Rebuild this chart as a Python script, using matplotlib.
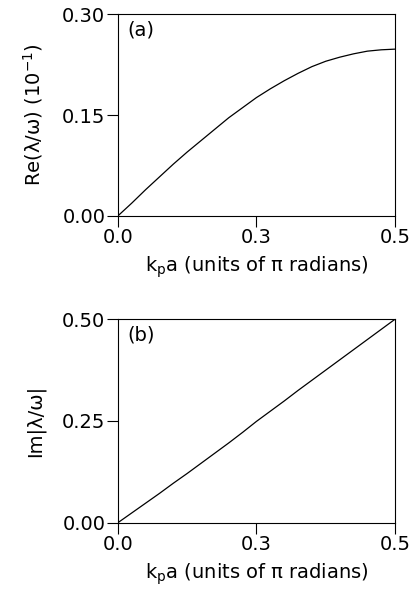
import matplotlib
matplotlib.use('Agg')
import matplotlib.pyplot as plt

plt.rcParams['font.family'] = ['DejaVu Sans']
plt.rcParams['mathtext.fontset'] = 'dejavusans'

# data
kpa = [0.0, 0.025, 0.05, 0.075, 0.10, 0.125, 0.15, 0.175, 0.20, 0.225, 0.25,
       0.275, 0.30, 0.325, 0.35, 0.375, 0.40, 0.425, 0.45, 0.475, 0.50]
re_vals = [0.0, 0.019, 0.039, 0.058, 0.077, 0.095, 0.112, 0.129, 0.146, 0.161, 0.176,
           0.189, 0.201, 0.212, 0.222, 0.230, 0.236, 0.241, 0.245, 0.247, 0.248]
im_vals = [0.0, 0.024, 0.048, 0.072, 0.097, 0.121, 0.146, 0.171, 0.196, 0.222, 0.249,
           0.274, 0.299, 0.325, 0.350, 0.375, 0.400, 0.425, 0.450, 0.475, 0.500]

xticks = [0.0, 0.25, 0.5]
xticklabels = ['0.0', '0.3', '0.5']
re_yticks = [0.0, 0.15, 0.30]
im_yticks = [0.0, 0.25, 0.50]

fs = 14

fig = plt.figure(figsize=(4.15, 5.9), dpi=100)
ax1 = fig.add_axes([0.284, 0.634, 0.668, 0.342])
ax2 = fig.add_axes([0.284, 0.114, 0.668, 0.345])

xlabel = 'k$_{\\mathregular{p}}$a (units of π radians)'

for ax, y, yt, ylab, tag in [
        (ax1, re_vals, re_yticks, 'Re(λ/ω) (10$^{\\mathregular{-1}}$)', '(a)'),
        (ax2, im_vals, im_yticks, 'Im|λ/ω|', '(b)')]:
    ax.plot(kpa, y, color='black', linewidth=0.9)
    ax.set_xlim(0, 0.5)
    ax.set_ylim(yt[0], yt[-1])
    ax.set_xticks(xticks)
    ax.set_xticklabels(xticklabels)
    ax.set_yticks(yt)
    ax.set_yticklabels(['%.2f' % v for v in yt])
    ax.tick_params(direction='out', length=8, width=0.8, labelsize=fs, pad=1,
                   top=False, right=False)
    for s in ax.spines.values():
        s.set_linewidth(0.8)
    ax.set_xlabel(xlabel, fontsize=fs, labelpad=5)
    ax.set_ylabel(ylab, fontsize=fs, labelpad=12)
    ax.text(0.035, 0.97, tag, transform=ax.transAxes, fontsize=fs,
            va='top', ha='left')

fig.savefig('out.png', dpi=100)
